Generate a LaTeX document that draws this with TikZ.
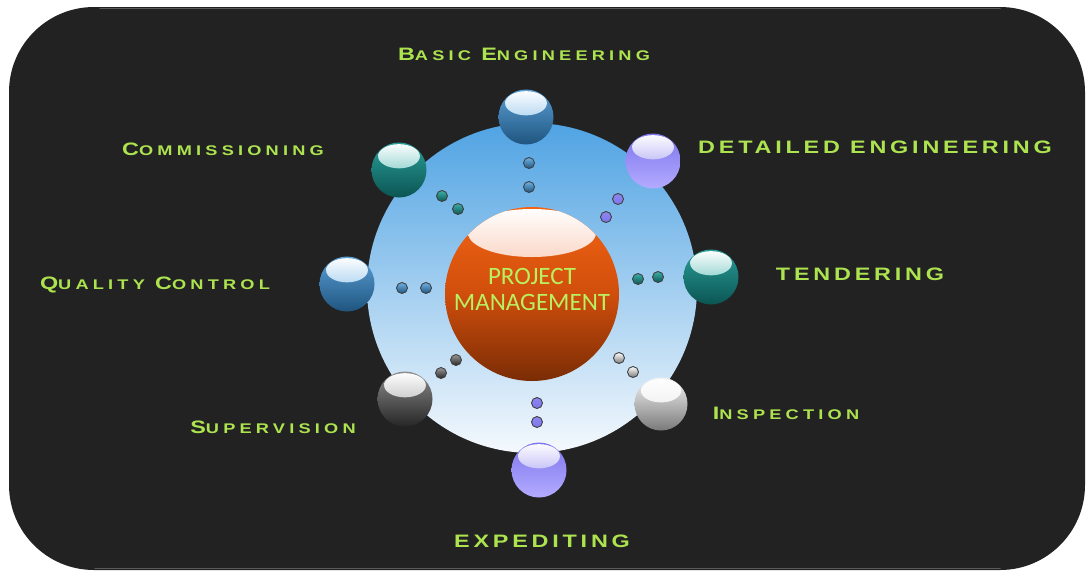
\documentclass[tikz,border=0pt]{standalone}
\usepackage{fontspec}
\setmainfont{Liberation Sans}
\newfontfamily\labfont[FakeStretch=1.3,LetterSpace=21]{Liberation Sans}
\newfontfamily\pmfont{Carlito}
\definecolor{bg}{HTML}{222222}
\definecolor{edge}{HTML}{5A5A5A}
\definecolor{lime}{HTML}{ADE34F}
\definecolor{pmgreen}{HTML}{B8F060}
\definecolor{bluetop}{HTML}{5B9FD6}
\definecolor{bluebot}{HTML}{1F557F}
\definecolor{bluegl}{HTML}{6FB2E6}
\definecolor{tealtop}{HTML}{2A9E98}
\definecolor{tealbot}{HTML}{0B5553}
\definecolor{tealgl}{HTML}{3CB0A8}
\definecolor{lavtop}{HTML}{7E76EC}
\definecolor{lavbot}{HTML}{B3ABFF}
\definecolor{lavgl}{HTML}{8D86F0}
\definecolor{dgtop}{HTML}{8C8C8C}
\definecolor{dgbot}{HTML}{262626}
\definecolor{dggl}{HTML}{9A9A9A}
\definecolor{lgtop}{HTML}{F4F4F4}
\definecolor{lgbot}{HTML}{7A7A7A}
\definecolor{lggl}{HTML}{E4E4E4}
\definecolor{ortop}{HTML}{F26414}
\definecolor{ormid}{HTML}{D04E0C}
\definecolor{orbot}{HTML}{7A2C05}
\definecolor{orgl}{HTML}{F07A44}
\definecolor{ringtop}{HTML}{4FA3E3}
\definecolor{ringmid}{HTML}{A9CDEE}
\definecolor{ringbot}{HTML}{F5F9FD}
\newcommand\smc[2]{{\fontsize{18}{18}\selectfont #1}{\addfontfeatures{LetterSpace=30}\fontsize{14}{14}\selectfont #2}}
\tikzset{
  ball/.style n args={4}{circle, inner sep=0pt, minimum size=#1, top color=#2, bottom color=#3, draw=none,
    path picture={\shade[top color=white, bottom color=#4]
      ([yshift=0.25*#1]path picture bounding box.center) ellipse [x radius=0.38*#1, y radius=0.22*#1];}},
  blueball/.style={ball={55pt}{bluetop}{bluebot}{bluegl}},
  tealball/.style={ball={55pt}{tealtop}{tealbot}{tealgl}},
  lavball/.style={ball={55pt}{lavtop}{lavbot}{lavgl}},
  dgball/.style={ball={55pt}{dgtop}{dgbot}{dggl}},
  lgball/.style={ball={53pt}{lgtop}{lgbot}{lggl}},
  dot/.style 2 args={circle, inner sep=0pt, minimum size=11pt, top color=#1, bottom color=#2, draw=black!75, line width=0.9pt},
  bluedot/.style={dot={bluegl}{bluebot}},
  tealdot/.style={dot={tealgl}{tealbot}},
  lavdot/.style={dot={lavgl}{lavtop}},
  dgdot/.style={dot={dggl}{dgbot}},
  lgdot/.style={dot={white}{lgbot}},
  lab/.style={text=lime, inner sep=0pt, font=\labfont\bfseries\fontsize{18}{18}\selectfont},
}
\begin{document}
\begin{tikzpicture}[x=1pt,y=-1pt]
\useasboundingbox (0,0) rectangle (1086,573);
% background panel
\fill[bg, rounded corners=85pt] (9,7) rectangle (1085,570);
\draw[edge, line width=1.5pt, line cap=round] (100,8.5) -- (1000,8.5);
\draw[edge, line width=1.5pt, line cap=round] (95,568.5) -- (1000,568.5);
% ring disc
\shade[top color=ringtop, middle color=ringmid, bottom color=ringbot] (532,288) circle [radius=165pt];
% central sphere
\node[circle, inner sep=0pt, minimum size=174pt, top color=ortop, bottom color=orbot, middle color=ormid,
  path picture={\shade[top color=white, bottom color=orgl]
    ([yshift=61pt]path picture bounding box.center) ellipse [x radius=64pt, y radius=24pt];}] (pm) at (532,294) {};
\node[text=pmgreen, align=center, inner sep=0pt, font=\pmfont\fontsize{25}{26}\selectfont] (pmtext) at (532,289) {PROJECT\\MANAGEMENT};
% outer spheres
\node[blueball] (be) at (526,117) {};
\node[lavball] (de) at (653,161) {};
\node[tealball] (co) at (399,170) {};
\node[tealball] (te) at (711,277) {};
\node[blueball] (qc) at (347,284) {};
\node[dgball] (su) at (405,399) {};
\node[lgball] (in) at (661,404) {};
\node[lavball] (ex) at (539,470) {};
% dots
\node[bluedot] (be1) at (529,163) {};
\node[bluedot] (be2) at (529,187) {};
\node[tealdot] (co1) at (442,196) {};
\node[tealdot] (co2) at (458,209) {};
\node[lavdot] (de1) at (618,199) {};
\node[lavdot] (de2) at (606,217) {};
\node[tealdot] (te1) at (638,279) {};
\node[tealdot] (te2) at (658,277) {};
\node[bluedot] (qc1) at (402,288) {};
\node[bluedot] (qc2) at (426,288) {};
\node[dgdot] (su1) at (456,360) {};
\node[dgdot] (su2) at (441,373) {};
\node[lgdot] (in1) at (619,358) {};
\node[lgdot] (in2) at (633,372) {};
\node[lavdot] (ex1) at (537,403) {};
\node[lavdot] (ex2) at (537,422) {};
% labels
\node[lab] (lbe) at (524,54) {\smc{B}{ASIC} \smc{E}{NGINEERING}};
\node[lab] (lco) at (223,149) {\smc{C}{OMMISSIONING}};
\node[lab] (lde) at (875,147) {DETAILED ENGINEERING};
\node[lab] (lte) at (860,274) {TENDERING};
\node[lab] (lqc) at (155,285) {\smc{Q}{UALITY} \smc{C}{ONTROL}};
\node[lab] (lin) at (786,413) {\smc{I}{NSPECTION}};
\node[lab] (lsu) at (273,427) {\smc{S}{UPERVISION}};
\node[lab] (lex) at (542,541) {EXPEDITING};
\end{tikzpicture}
\end{document}
